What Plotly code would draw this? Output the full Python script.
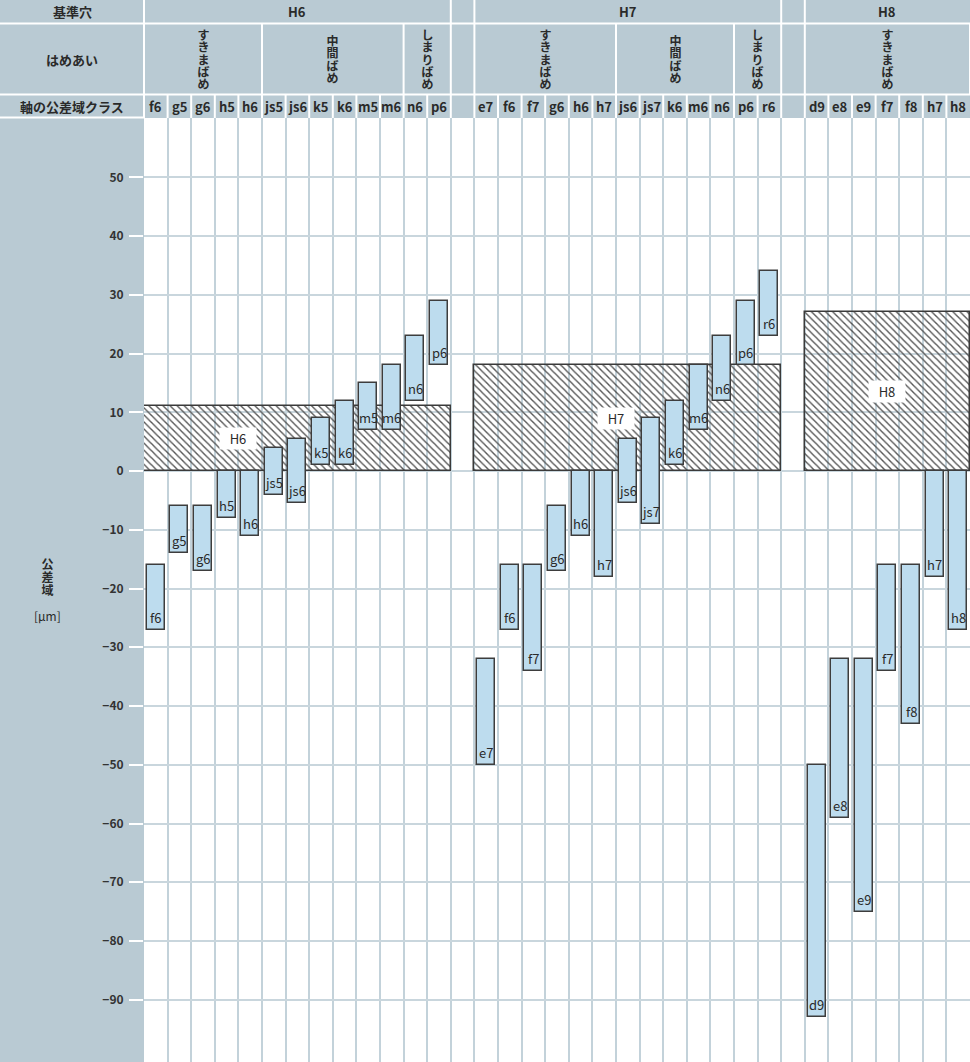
import plotly.graph_objects as go

# ---------------- data ----------------
h6_classes = ["f6", "g5", "g6", "h5", "h6", "js5", "js6", "k5", "k6", "m5", "m6", "n6", "p6"]
h6_upper = [-16, -6, -6, 0, 0, 4, 5.5, 9, 12, 15, 18, 23, 29]
h6_lower = [-27, -14, -17, -8, -11, -4, -5.5, 1, 1, 7, 7, 12, 18]

h7_classes = ["e7", "f6", "f7", "g6", "h6", "h7", "js6", "js7", "k6", "m6", "n6", "p6", "r6"]
h7_upper = [-32, -16, -16, -6, 0, 0, 5.5, 9, 12, 18, 23, 29, 34]
h7_lower = [-50, -27, -34, -17, -11, -18, -5.5, -9, 1, 7, 12, 18, 23]

h8_classes = ["d9", "e8", "e9", "f7", "f8", "h7", "h8"]
h8_upper = [-50, -32, -32, -16, -16, 0, 0]
h8_lower = [-93, -59, -75, -34, -43, -18, -27]

hole_names = ["H6", "H7", "H8"]
hole_upper = [11, 18, 27]
hole_lower = [0, 0, 0]

fit_h6 = ["すきまばめ", "中間ばめ", "しまりばめ"]
fit_h6_span = [5, 6, 2]
fit_h7 = ["すきまばめ", "中間ばめ", "しまりばめ"]
fit_h7_span = [6, 5, 2]
fit_h8 = ["すきまばめ"]
fit_h8_span = [7]

y_ticks = list(range(-90, 51, 10))

row_titles = ["基準穴", "はめあい", "軸の公差域クラス"]
y_title = "公差域"
y_unit = "[μm]"

# ---------------- layout constants ----------------
W, H = 970, 1062
L, T = 144, 118
PW, PH = W - L, H - T
NCOL = 35
FONT = "Noto Sans CJK JP, Noto Sans, sans-serif"
PANEL = "#b9cad3"
TXT = "#2a2a2a"

def py(p):
    return (H - p) / PH

def pxp(p):
    return (p - L) / PW

groups = [
    (hole_names[0], hole_upper[0], hole_lower[0], h6_classes, h6_upper, h6_lower, fit_h6, fit_h6_span, 0, 4.0),
    (hole_names[1], hole_upper[1], hole_lower[1], h7_classes, h7_upper, h7_lower, fit_h7, fit_h7_span, 14, 6.0),
    (hole_names[2], hole_upper[2], hole_lower[2], h8_classes, h8_upper, h8_lower, fit_h8, fit_h8_span, 28, 3.5),
]

fig = go.Figure()
annotations = []
shapes = []

def ann(**kw):
    kw.setdefault("showarrow", False)
    kw.setdefault("xanchor", "center")
    kw.setdefault("yanchor", "middle")
    annotations.append(kw)

# hatched hole tolerance zones
for name, hu, hl, cls, up, lo, fits, spans, start, lab_off in groups:
    n = len(cls)
    fig.add_trace(go.Bar(
        x=[start + n / 2], base=[hl], y=[hu - hl], width=[n],
        marker=dict(color="#555555",
                    pattern=dict(shape="\\", fgcolor="#555555", bgcolor="rgba(0,0,0,0)",
                                 size=5, solidity=0.28, fillmode="replace"),
                    line=dict(color="#3a3a3a", width=1.5)),
        hoverinfo="skip", showlegend=False))
    ann(x=start + lab_off, y=(hu + hl) / 2, xref="x", yref="y", text=name,
        font=dict(family=FONT, size=13, color=TXT), bgcolor="white", width=34, height=19)

# shaft tolerance bars
xs, bases, heights = [], [], []
for name, hu, hl, cls, up, lo, fits, spans, start, lab_off in groups:
    for i, c in enumerate(cls):
        xs.append(start + i + 0.5)
        bases.append(lo[i])
        heights.append(up[i] - lo[i])
        ann(x=start + i + 0.5, y=lo[i], xref="x", yref="y", text=c,
            yanchor="bottom", yshift=1, font=dict(family=FONT, size=13, color=TXT))
fig.add_trace(go.Bar(
    x=xs, base=bases, y=heights, width=0.76,
    marker=dict(color="#bddcee", line=dict(color="#3d3d3d", width=1.5)),
    hoverinfo="skip", showlegend=False))

# ---------------- header ----------------
def hline(ypix, x0=-L / PW, x1=1.0):
    shapes.append(dict(type="line", xref="paper", yref="paper", x0=x0, x1=x1,
                       y0=py(ypix), y1=py(ypix), line=dict(color="white", width=2)))

def vline(col, y0pix, y1pix):
    x = col / NCOL
    shapes.append(dict(type="line", xref="paper", yref="paper", x0=x, x1=x,
                       y0=py(y0pix), y1=py(y1pix), line=dict(color="white", width=2)))

hline(23.5)
hline(94.5)
hline(117.5, x1=0)

row1_b = [0, 13, 14, 27, 28]
row2_b = [0]
row3_b = list(range(0, NCOL))
for name, hu, hl, cls, up, lo, fits, spans, start, lab_off in groups:
    c = start
    for s in spans:
        c += s
        row2_b.append(c)
    row2_b.append(start + len(cls) + 1)
for b in row1_b:
    vline(b, 0, 23.5)
for b in row2_b:
    vline(b, 23.5, 94.5)
for b in row3_b:
    vline(b, 94.5, 118)

bold = dict(family=FONT, size=13, color=TXT, weight="bold")
bold_v = dict(family=FONT, size=12, color=TXT, weight="bold")

for name, hu, hl, cls, up, lo, fits, spans, start, lab_off in groups:
    n = len(cls)
    ann(x=(start + n / 2) / NCOL, y=py(12), xref="paper", yref="paper", text=name, font=bold)
    c = start
    for f, s in zip(fits, spans):
        cx = (c + s / 2) / NCOL
        k = len(f)
        for j, ch in enumerate(f):
            yy = 59 + (j - (k - 1) / 2) * 12.5
            ann(x=cx, y=py(yy), xref="paper", yref="paper", text=ch, font=bold_v,
                height=12.5, width=15)
        c += s
    for i, cl in enumerate(cls):
        ann(x=(start + i + 0.5) / NCOL, y=py(106.5), xref="paper", yref="paper", text=cl, font=bold)

for t, yy in zip(row_titles, [12, 59, 106.5]):
    ann(x=pxp(72), y=py(yy), xref="paper", yref="paper", text=t, font=bold)

for j, ch in enumerate(y_title):
    ann(x=pxp(47), y=py(563 + j * 13), xref="paper", yref="paper", text=ch,
        font=dict(family=FONT, size=12, color=TXT, weight="bold"), height=13, width=15)
ann(x=pxp(47), y=py(615), xref="paper", yref="paper", text=y_unit,
    font=dict(family=FONT, size=12, color=TXT))

fig.update_layout(
    width=W, height=H, autosize=False,
    margin=dict(l=L, r=0, t=T, b=0, pad=0),
    paper_bgcolor=PANEL, plot_bgcolor="white",
    barmode="overlay", bargap=0,
    xaxis=dict(range=[0, NCOL], tickvals=list(range(0, NCOL + 1)), showticklabels=False,
               showgrid=True, gridcolor="#c3d2da", gridwidth=2, zeroline=False, ticks="",
               fixedrange=True),
    yaxis=dict(range=[-100.6, 60.1], tickvals=y_ticks, showgrid=True, gridcolor="#c9d6dd",
               gridwidth=1.5, zeroline=False, ticks="outside", ticklen=14, tickwidth=2,
               tickcolor="white", ticklabelstandoff=3,
               tickfont=dict(family=FONT, size=12, color="#333333", weight="bold"),
               fixedrange=True),
    shapes=shapes, annotations=annotations, showlegend=False,
)

fig.write_html("out.html", post_script="document.body.style.margin='0';",
               config={"displayModeBar": False})
